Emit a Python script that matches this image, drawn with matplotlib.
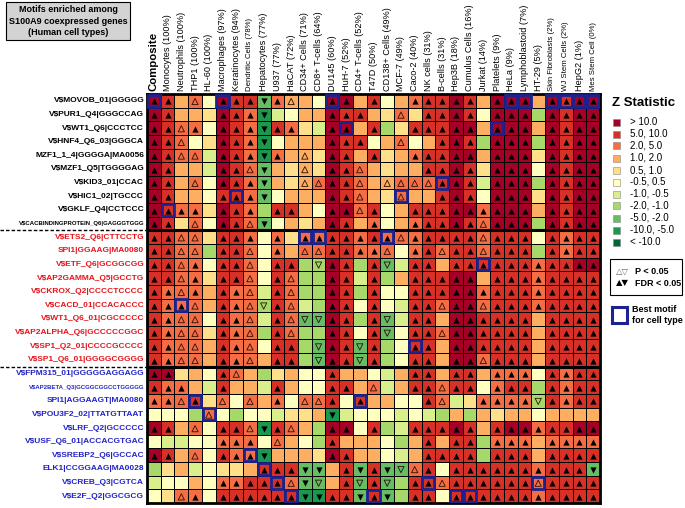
import matplotlib
matplotlib.use("Agg")
import matplotlib.pyplot as plt
import numpy as np
from matplotlib.colors import ListedColormap, BoundaryNorm
from matplotlib.patches import Rectangle

plt.rcParams["font.family"] = ["Liberation Sans", "DejaVu Sans"]

COLUMNS = ["Composite", "Monocytes (100%)", "Neutrophils (100%)", "THP1 (100%)", "HL-60 (100%)",
           "Macrophages (97%)", "Keratinocytes (94%)", "Dendritic Cells (78%)", "Hepatocytes (77%)",
           "U937 (77%)", "HaCAT (72%)", "CD34+ Cells (71%)", "CD8+ T-cells (64%)", "DU145 (60%)",
           "HuH-7 (52%)", "CD4+ T-cells (52%)", "T47D (50%)", "CD138+ Cells (49%)", "MCF-7 (49%)",
           "Caco-2 (40%)", "NK cells (31%)", "B-cells (31%)", "Hep3B (18%)", "Cumulus Cells (16%)",
           "Jurkat (14%)", "Platelets (9%)", "HeLa (9%)", "Lymphoblastoid (7%)", "HT-29 (5%)",
           "Skin Fibroblasts (2%)", "WJ Stem Cells (2%)", "HepG2 (1%)", "Mes Stem Cell (0%)"]
SMALL_COLS = {"Dendritic Cells (78%)", "Skin Fibroblasts (2%)", "WJ Stem Cells (2%)", "Mes Stem Cell (0%)"}

MOTIFS = ["V$MOVOB_01|GGGGG", "V$PUR1_Q4|GGGCCAG", "V$WT1_Q6|CCCTCC", "V$HNF4_Q6_03|GGGCA",
          "MZF1_1_4|GGGGA|MA0056", "V$MZF1_Q5|TGGGGAG", "V$KID3_01|CCAC", "V$HIC1_02|TGCCC",
          "V$GKLF_Q4|CCTCCC", "V$CACBINDINGPROTEIN_Q6|GAGGGTGGG",
          "V$ETS2_Q6|CTTCCTG", "SPI1|GGAAG|MA0080", "V$ETF_Q6|GCGGCGG", "V$AP2GAMMA_Q5|GCCTG",
          "V$CKROX_Q2|CCCCTCCCC", "V$CACD_01|CCACACCC", "V$WT1_Q6_01|CGCCCCC",
          "V$AP2ALPHA_Q6|GCCCCCGGC", "V$SP1_Q2_01|CCCCGCCCC", "V$SP1_Q6_01|GGGGCGGGG",
          "V$FPM315_01|GGGGGAGGAGG", "V$AP2BETA_Q3|GCGGCGGCCTGGGGG", "SPI1|AGGAAGT|MA0080",
          "V$POU3F2_02|TTATGTTAAT", "V$LRF_Q2|GCCCCC", "V$USF_Q6_01|ACCACGTGAC",
          "V$SREBP2_Q6|GCCAC", "ELK1|CCGGAAG|MA0028", "V$CREB_Q3|CGTCA", "V$E2F_Q2|GGCGCG"]
GROUP = [0] * 10 + [1] * 10 + [2] * 10
SMALL_ROWS = {"V$CACBINDINGPROTEIN_Q6|GAGGGTGGG", "V$AP2BETA_Q3|GCGGCGGCCTGGGGG"}

# z-statistic bin per cell (0: >10 ... 10: < -10) + mark (A/V filled = FDR, a/v open = P, . none)
CELLS = [
    "0A 1A 3. 2a 5. 0A 1A 1A 8V 2A 3a 3. 5. 0A 0A 3. 1A 5. 3. 2A 1A 1A 0A 1A 3. 0A 0A 0A 3. 0A 1A 0A 0A",
    "0A 1A 3. 3. 4. 0A 1A 2A 9V 6. 5. 3. 3. 0A 1A 1A 3. 4. 2a 4. 1A 1A 0A 1A 5. 0A 0A 0A 7. 0A 1A 0A 0A",
    "0A 1A 2a 2A 5. 0A 1A 2A 9V 1A 2A 4. 6. 0A 0A 3. 1A 7. 4. 1A 1A 1A 0A 0A 3. 0A 0A 0A 3. 0A 1A 0A 0A",
    "0A 1A 2a 5. 4. 0A 1A 2A 9V 5. 3. 3. 3. 0A 1A 1A 5. 3. 2a 5. 3. 1A 0A 1A 7. 0A 0A 0A 7. 0A 1A 0A 0A",
    "0A 1A 2a 2a 6. 0A 1A 2A 9V 2A 3. 3a 4. 0A 1A 3. 1A 4. 3. 2A 1A 1A 0A 0A 3. 0A 0A 0A 4. 0A 1A 0A 0A",
    "0A 1A 3. 3. 6. 0A 1A 2a 8V 3. 4. 3a 4. 0A 1A 2a 3. 4. 3. 3. 1A 1A 0A 1A 4. 0A 0A 0A 5. 0A 1A 0A 0A",
    "0A 1A 3. 2a 5. 0A 1A 2A 8V 3. 4. 3a 2a 0A 1A 2a 3. 3a 2a 2a 2a 1A 0A 1A 6. 0A 0A 0A 7. 0A 1A 0A 0A",
    "0A 1A 3. 3. 5. 1A 1A 2A 8V 5. 3. 3. 3. 0A 1A 2a 3. 4. 2a 3. 3. 1A 0A 1A 5. 0A 0A 0A 4. 0A 1A 0A 0A",
    "0A 1A 2A 2A 4. 0A 1A 2A 7. 1A 1A 3. 5. 0A 0A 2a 1A 5. 3. 1A 1A 1A 0A 0A 2A 0A 0A 0A 3. 0A 1A 0A 0A",
    "0A 1A 4. 2a 5. 0A 1A 2a 8V 5. 3. 4. 3. 0A 1A 3. 2A 5. 3. 2A 1A 1A 0A 1A 2a 0A 0A 0A 7. 0A 1A 0A 0A",
    "1A 1A 2a 2a 4. 1A 1A 2A 5. 2A 4. 2A 2A 1A 1A 2A 1A 2A 2a 2A 1A 1A 1A 1A 2a 1A 1A 1A 5. 1A 2A 1A 1A",
    "1A 1A 2a 2a 7. 1A 1A 2a 5. 2A 3. 2a 2a 1A 1A 2A 2A 2a 5. 2A 1A 2a 1A 1A 2a 1A 1A 1A 7. 1A 2A 1A 1A",
    "1A 1A 2a 2A 5. 1A 1A 2a 5. 1A 1A 7. 7v 0A 1A 7. 1A 8v 6. 1A 1A 3. 1A 1A 1A 1A 1A 1A 2A 1A 1A 0A 0A",
    "1A 1A 2a 2A 4. 1A 1A 2a 5. 1A 2a 7. 7. 0A 1A 6. 1A 7. 3. 1A 1A 1A 0A 0A 3. 1A 1A 1A 2A 1A 1A 1A 1A",
    "1A 2A 2a 2A 3. 1A 2A 2a 6. 1A 2a 7. 7. 0A 1A 7. 1A 5. 5. 1A 1A 1A 0A 0A 2A 1A 1A 1A 2A 1A 1A 1A 1A",
    "1A 2A 2A 2a 3. 1A 2A 2a 7v 1A 2a 6. 7. 0A 1A 5. 1A 5. 6. 1A 1A 2a 0A 0A 2a 1A 1A 1A 2A 1A 1A 1A 1A",
    "1A 2A 2a 2a 5. 1A 2A 2a 6. 1A 2a 8v 8v 0A 1A 7. 1A 8v 6. 1A 1A 3. 0A 0A 1A 1A 1A 1A 3. 1A 1A 1A 1A",
    "1A 2A 2a 2a 4. 1A 2A 2a 7. 1A 2a 7. 7. 0A 1A 5. 1A 8v 5. 1A 1A 2a 0A 0A 1A 1A 1A 1A 3. 1A 1A 1A 1A",
    "1A 2A 2a 2a 3. 1A 2A 2a 5. 1A 1A 7. 8v 0A 1A 8v 1A 7. 5. 1A 1A 3. 0A 0A 1A 1A 1A 1A 3. 1A 1A 1A 1A",
    "1A 2A 2a 2a 3. 1A 2A 2a 3. 1A 1A 7. 8v 0A 1A 8v 1A 7. 5. 1A 1A 3. 0A 0A 2a 1A 1A 1A 3. 1A 1A 1A 1A",
    "0A 0A 4. 3. 5. 1A 2a 3. 7. 4. 3. 5. 5. 1A 3. 3. 5. 6. 3. 1A 1A 3. 1A 1A 3. 2A 2A 2A 5. 1A 2A 1A 1A",
    "1A 2A 2A 3. 6. 1A 3. 3. 6. 1A 3. 5. 5. 1A 1A 3. 2a 6. 3. 1A 1A 2a 1A 1A 5. 2A 1A 1A 7. 1A 2A 1A 1A",
    "2A 2A 2a 1A 4. 2a 5. 2a 3. 2A 5. 2a 2a 1A 5. 1A 3. 3. 5. 5. 1A 2a 6. 4. 2A 2A 2A 2A 7v 1A 2A 1A 1A",
    "5. 5. 5. 7. 2a 5. 7. 5. 5. 6. 4. 4. 3. 9V 6. 5. 5. 5. 6. 5. 6. 7. 3. 7. 3. 4. 3. 3. 5. 3. 3. 3. 3.",
    "0A 1A 3. 2a 5. 1A 1A 2a 9V 1A 2a 3. 7. 0A 0A 5. 1A 7. 6. 1A 1A 1A 0A 1A 3. 1A 0A 0A 2A 1A 1A 0A 0A",
    "5. 6. 6. 5. 5. 2A 2A 2A 5. 2a 3. 5. 7. 1A 3. 3. 3. 5. 7. 3. 1A 3. 1A 1A 7. 2A 2A 2A 3. 2A 2A 2A 2A",
    "0A 1A 3. 2a 5. 1A 2A 2A 9V 3. 3. 3. 4. 0A 1A 3. 3. 5. 6. 3. 1A 1A 1A 1A 7. 1A 1A 1A 3. 1A 1A 1A 1A",
    "7. 4. 3. 6. 5. 4. 4. 3. 1A 1A 1A 8V 8V 3. 1A 8V 1A 8V 8v 2a 1A 5. 1A 1A 1A 1A 1A 1A 2A 1A 1A 1A 8V",
    "6. 5. 5. 3. 5. 2A 2A 1A 1A 1A 2a 8V 8v 3. 1A 8v 1A 8v 7. 1A 1A 2a 1A 1A 1A 1A 1A 1A 2a 1A 1A 1A 1A",
    "5. 4. 2a 2A 5. 1A 1A 1A 1A 1A 1A 9V 9V 1A 1A 8V 1A 8V 7. 1A 1A 5. 1A 1A 1A 1A 1A 1A 2A 1A 1A 1A 1A",
]

# best motif for each cell type (row, column), 0-based
BEST = [(0, 0), (0, 5), (0, 13), (0, 26), (0, 27), (0, 29), (0, 30), (0, 31), (0, 32),
        (2, 14), (2, 25), (6, 21), (7, 6), (7, 18), (8, 1), (10, 11), (10, 12), (10, 17),
        (12, 24), (15, 2), (18, 19), (22, 3), (22, 15), (23, 4), (26, 7), (27, 8),
        (28, 9), (28, 20), (28, 28), (29, 10), (29, 16), (29, 22), (29, 23)]

LEGEND_LABELS = ["> 10.0", "5.0, 10.0", "2.0, 5.0", "1.0, 2.0", "0.5, 1.0", "-0.5, 0.5",
                 "-1.0, -0.5", "-2.0, -1.0", "-5.0, -2.0", "-10.0, -5.0", "< -10.0"]
BIN_Z = [12, 7.5, 3.5, 1.5, 0.75, 0, -0.75, -1.5, -3.5, -7.5, -12]
EDGES = [-100, -10, -5, -2, -1, -0.5, 0.5, 1, 2, 5, 10, 100]

PALETTE = ["#006837", "#1a9850", "#66bd63", "#a6d96a", "#d9ef8b", "#ffffbf",
           "#fee08b", "#fdae61", "#f46d43", "#d73027", "#a50026"]
GROUP_COLORS = ["black", "#e8141c", "#2424c8"]
BOX_COLOR = "#1c2290"

tokens = [row.split() for row in CELLS]
for t in tokens:
    assert len(t) == len(COLUMNS), len(t)
nrow, ncol = len(MOTIFS), len(COLUMNS)
Z = np.array([[BIN_Z[int(c[0])] for c in t] for t in tokens])
marks = [[c[1] for c in t] for t in tokens]

cmap = ListedColormap(PALETTE)
norm = BoundaryNorm(EDGES, cmap.N)

fig = plt.figure(figsize=(6.85, 5.08), dpi=100)
L, R, T, B = 147 / 685, 600 / 685, 1 - 94 / 508, 1 - 503 / 508
ax = fig.add_axes([L, B, R - L, T - B])
ax.pcolormesh(np.arange(ncol + 1), np.arange(nrow + 1), Z, cmap=cmap, norm=norm,
              edgecolors="black", linewidth=0.7)
ax.set_xlim(0, ncol)
ax.set_ylim(nrow, 0)
ax.set_xticks([])
ax.set_yticks([])
for s in ax.spines.values():
    s.set_linewidth(2)

for i in range(nrow):
    for j in range(ncol):
        m = marks[i][j]
        if m == ".":
            continue
        mk = "^" if m in "Aa" else "v"
        if m in "AV":
            ax.scatter(j + 0.5, i + 0.55, s=20, marker=mk, color="black", linewidths=0)
        else:
            ax.scatter(j + 0.5, i + 0.55, s=20, marker=mk, facecolor="none",
                       edgecolor="#2a1208", linewidths=0.6)

for (i, j) in BEST:
    ax.add_patch(Rectangle((j + 0.06, i + 0.06), 0.88, 0.88, fill=False,
                           edgecolor=BOX_COLOR, linewidth=2.0, zorder=5))

for yb in (10, 20):
    ax.axhline(yb, color="black", linewidth=2.2)
    ax.plot([-0.325, 0], [yb, yb], transform=ax.get_yaxis_transform(), clip_on=False,
            color="black", linestyle=(0, (2.5, 1.5)), linewidth=1.0)

for i, name in enumerate(MOTIFS):
    fs = 4.3 if name in SMALL_ROWS else 6.0
    ax.text(-0.2, i + 0.5, name, ha="right", va="center", fontsize=fs, fontweight="bold",
            color=GROUP_COLORS[GROUP[i]])

for j, name in enumerate(COLUMNS):
    if name == "Composite":
        ax.text(j + 0.5, -0.25, name, rotation=90, ha="center", va="bottom", fontsize=8.2,
                fontweight="bold")
    else:
        fs = 5.6 if name in SMALL_COLS else 6.6
        ax.text(j + 0.5, -0.25, name, rotation=90, ha="center", va="bottom", fontsize=fs)

# title box
fig.text(68 / 685, 1 - 21 / 508, "Motifs enriched among\nS100A9 coexpressed genes\n(Human cell types)",
         ha="center", va="center", fontsize=6.5, fontweight="bold", linespacing=1.35,
         bbox=dict(boxstyle="square,pad=0.35", facecolor="#d3d3d3", edgecolor="black", linewidth=0.8))

# colour legend
fig.text(612 / 685, 1 - 103 / 508, "Z Statistic", fontsize=9.5, fontweight="bold", va="center")
for k, lab in enumerate(LEGEND_LABELS):
    y = 1 - (122 + 12 * k) / 508
    fig.patches.append(Rectangle((613 / 685, y - 3.5 / 508), 7 / 685, 7 / 508,
                                 transform=fig.transFigure, facecolor=PALETTE[10 - k],
                                 edgecolor="#888888", linewidth=0.4))
    fig.text(630 / 685, y, lab, fontsize=7, va="center")

fig.patches.append(Rectangle((610 / 685, 1 - 295 / 508), 72 / 685, 36 / 508,
                             transform=fig.transFigure, fill=False, edgecolor="black", linewidth=0.8))
fig.text(616 / 685, 1 - 271 / 508, "\u25b3\u25bd", fontsize=6, va="center", color="#666666",
         family=["DejaVu Sans"])
fig.text(635 / 685, 1 - 271 / 508, "P < 0.05", fontsize=6.5, va="center", fontweight="bold")
fig.text(616 / 685, 1 - 283 / 508, "\u25b2\u25bc", fontsize=6, va="center", color="black",
         family=["DejaVu Sans"])
fig.text(635 / 685, 1 - 283 / 508, "FDR < 0.05", fontsize=6.5, va="center", fontweight="bold")

fig.patches.append(Rectangle((612 / 685, 1 - 323 / 508), 15 / 685, 16 / 508,
                             transform=fig.transFigure, fill=False, edgecolor=BOX_COLOR, linewidth=2.2))
fig.text(632 / 685, 1 - 315 / 508, "Best motif\nfor cell type", fontsize=6.5, va="center",
         fontweight="bold", linespacing=1.2)

fig.savefig("out.png", dpi=100)
